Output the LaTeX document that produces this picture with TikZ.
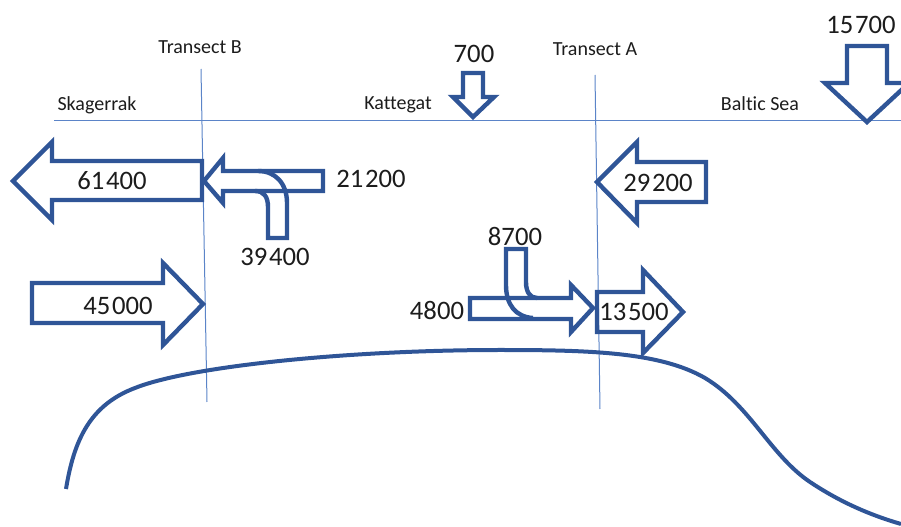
\documentclass[tikz,border=0pt]{standalone}
\usepackage{fontspec}
\setmainfont[Ligatures=CommonOff]{Carlito}
\usepackage{xcolor}
\definecolor{flowblue}{HTML}{2F5597}
\definecolor{lineblue}{HTML}{5B84C8}
\definecolor{inktext}{HTML}{1C1C1C}
\newcommand{\gap}{\hspace{0.07em}}

\begin{document}
\begin{tikzpicture}[
  x=0.75pt, y=-0.75pt,
  flow/.style={draw=flowblue, line width=3.3pt, miter limit=10},
  shore/.style={draw=flowblue, line width=3pt},
  guide/.style={draw=lineblue, line width=0.75pt},
  num/.style={font=\fontsize{20}{20}\selectfont, text=inktext, inner sep=0pt},
  place/.style={font=\fontsize{15}{15}\selectfont, text=inktext, inner sep=0pt}
]
  \clip (0,0) rectangle (901,527);

  \coordinate (surfW) at (54,121);
  \coordinate (surfE) at (901,121);
  \coordinate (transBtop) at (201,69);
  \coordinate (transBbot) at (207,402);
  \coordinate (transAtop) at (595,75);
  \coordinate (transAbot) at (600,409);
  \draw[guide] (surfW) -- (surfE);
  \draw[guide] (transBtop) -- (transBbot);
  \draw[guide] (transAtop) -- (transAbot);

  \draw[shore] (66,489) .. controls (74,440) and (90,405) .. (135,388)
    .. controls (190,366) and (350,350) .. (500,350)
    .. controls (590,350) and (660,352) .. (705,378)
    .. controls (750,405) and (770,455) .. (810,482)
    .. controls (840,502) and (870,515) .. (901,524);

  \draw[flow] (13,181) -- (52,142) -- (52,161) -- (202,161) -- (202,200) -- (52,200) -- (52,220) -- cycle;
  \draw[flow] (32,283) -- (163,283) -- (163,263) -- (203,304) -- (163,345) -- (163,323) -- (32,323) -- cycle;
  \draw[flow] (204,181) -- (223,158) -- (223,171) -- (323,171) -- (323,191) -- (223,191) -- (223,203) -- cycle;
  \draw[flow] (258,171) .. controls (275,171) and (287,183) .. (287,203) -- (287,238) -- (268,238) -- (268,207)
    .. controls (268,197) and (264,191) .. (255,191);
  \draw[flow] (597,182) -- (637,142) -- (637,162) -- (706,162) -- (706,202) -- (637,202) -- (637,223) -- cycle;
  \draw[flow] (597,292) -- (643,292) -- (643,270) -- (683,312) -- (643,353) -- (643,332) -- (597,332) -- cycle;
  \draw[flow] (470,298) -- (571,298) -- (571,285) -- (593,308) -- (571,332) -- (571,319) -- (470,319) -- cycle;
  \draw[flow] (537,298) .. controls (530,298) and (526,292) .. (526,282) -- (526,249) -- (506,249) -- (506,285)
    .. controls (506,305) and (516,317) .. (533,318);
  \draw[flow] (463,73) -- (483,73) -- (483,97) -- (494,97) -- (473,117) -- (453,97) -- (463,97) -- cycle;
  \draw[flow] (847,46) -- (887,46) -- (887,83) -- (909,83) -- (867,122) -- (825,83) -- (847,83) -- cycle;

  \node[place] (transB) at (200,47) {Transect B};
  \node[place] (transA) at (595,49) {Transect A};
  \node[place] (skag) at (97,105) {Skagerrak};
  \node[place] (katt) at (398,105) {Kattegat};
  \node[place] (baltic) at (760,104) {Baltic Sea};

  \node[num] (river) at (474,54) {700};
  \node[num] (inflow) at (861,25) {15\gap700};
  \node[num] (outB) at (112,181) {61\gap400};
  \node[num] (inB) at (118,306) {45\gap000};
  \node[num] (upper) at (371,179) {21\gap200};
  \node[num] (lower) at (275,257) {39\gap400};
  \node[num] (outA) at (658,183) {29\gap200};
  \node[num] (inA) at (634,312) {13\gap500};
  \node[num] (mixup) at (515,236) {8700};
  \node[num] (mixin) at (437,310) {4800};
\end{tikzpicture}
\end{document}
